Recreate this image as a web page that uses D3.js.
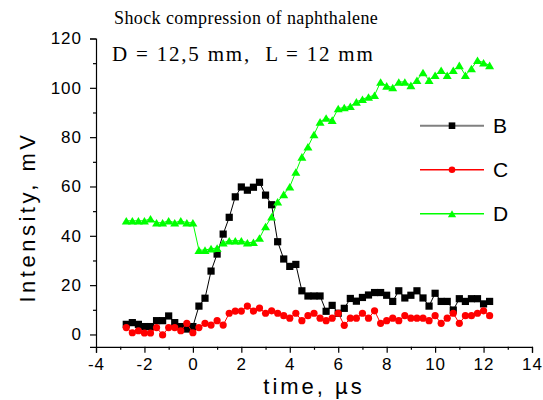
<!DOCTYPE html>
<html>
<head>
<meta charset="utf-8">
<script src="https://cdn.jsdelivr.net/npm/d3@7"></script>
<style>
  body { margin: 0; background: #fff; }
  svg { display: block; }
</style>
</head>
<body>
<div id="chart"></div>
<script>
// sample times, µs
const times = [-2.75, -2.5, -2.25, -2, -1.75, -1.5, -1.25, -1, -0.75, -0.5, -0.25, 0,
  0.25, 0.5, 0.75, 1, 1.25, 1.5, 1.75, 2, 2.25, 2.5, 2.75, 3, 3.25, 3.5, 3.75, 4,
  4.25, 4.5, 4.75, 5, 5.25, 5.5, 5.75, 6, 6.25, 6.5, 6.75, 7, 7.25, 7.5, 7.75, 8,
  8.25, 8.5, 8.75, 9, 9.25, 9.5, 9.75, 10, 10.25, 10.5, 10.75, 11, 11.25, 11.5, 11.75, 12, 12.25]

const seriesB = [4.1, 4.8, 4.1, 3.2, 3.2, 5.6, 5.6, 7.5, 4.8, 3.2, 2.2, 3.2,
  11.5, 14.7, 25.7, 32.6, 40.7, 47.5, 55.8, 59.8, 58.5, 59.7, 61.7, 56.5, 52.6, 37.6, 30.6, 27.6,
  28.4, 17.7, 15.6, 15.6, 15.6, 9.4, 11.8, 8.6, 10.6, 14.6, 13.5, 15.0, 16.0, 17.0, 17.0, 15.9,
  13.4, 17.7, 14.8, 15.9, 17.7, 14.8, 11.5, 16.7, 13.4, 13.4, 9.9, 14.5, 13.4, 14.5, 14.5, 12.4, 13.4]

const seriesC = [2.8, 0.7, 1.5, 0.6, 0.6, 2.8, -0.2, 2.8, 2.8, 1.5, 4.5, 0.7,
  2.8, 4.5, 3.8, 5.6, 3.8, 8.6, 9.5, 9.5, 11.5, 9.5, 10.7, 8.6, 9.6, 8.6, 7.6, 6.6,
  8.6, 5.6, 7.6, 8.6, 6.6, 5.6, 6.6, 8.6, 3.7, 6.6, 6.6, 8.6, 6.6, 9.6, 4.5, 5.6,
  6.6, 5.6, 7.6, 6.6, 6.6, 6.6, 5.6, 7.6, 4.5, 6.6, 8.6, 4.5, 7.6, 7.6, 8.6, 9.6, 7.6]

const seriesD = [46.1, 46.1, 46.1, 46.1, 46.9, 45.3, 45.3, 46.1, 45.3, 46.1, 45.3, 45.3,
  34.2, 34.2, 34.8, 35.0, 37.2, 38.0, 38.0, 38.0, 37.2, 37.4, 39.1, 43.8, 47.7, 53.8, 56.8, 59.9,
  65.9, 72.0, 76.1, 81.1, 86.2, 87.8, 86.9, 91.6, 92.0, 92.5, 94.3, 95.4, 96.3, 97.0, 102.4, 100.8,
  100.1, 102.4, 102.4, 101.0, 103.1, 106.2, 103.1, 105.1, 107.1, 105.1, 107.1, 109.1, 105.1, 107.8, 111.2, 110.2, 109.1]

const xTicks = [-4, -2, 0, 2, 4, 6, 8, 10, 12, 14]
const yTicks = [0, 20, 40, 60, 80, 100, 120]
const legendNames = ['B', 'C', 'D']

const width = 543, height = 400

const svg = d3.select('#chart').append('svg')
  .attr('width', width)
  .attr('height', height)

const x = d3.scaleLinear().domain([-4, 14]).range([96, 532])
const y = d3.scaleLinear().domain([-5, 120]).range([346.8, 38.5])

// plain hyphen minus like the original
const fmt = d => String(d)

// axes
svg.append('g')
  .attr('transform', `translate(0,${y(-5)})`)
  .call(d3.axisBottom(x).tickValues(xTicks).tickSize(6).tickPadding(5).tickFormat(fmt))
svg.append('g')
  .attr('transform', `translate(0,${y(-5)})`)
  .call(d3.axisBottom(x).tickValues(d3.range(-3, 14, 2)).tickSize(3).tickFormat(''))
  .select('.domain').remove()

svg.append('g')
  .attr('transform', `translate(${x(-4)},0)`)
  .call(d3.axisLeft(y).tickValues(yTicks).tickSize(6).tickPadding(8).tickFormat(fmt))
svg.append('g')
  .attr('transform', `translate(${x(-4)},0)`)
  .call(d3.axisLeft(y).tickValues(d3.range(10, 120, 20)).tickSize(3).tickFormat(''))
  .select('.domain').remove()

svg.selectAll('.domain').attr('stroke', '#000').attr('stroke-width', 1.2)
svg.selectAll('.tick line').attr('stroke', '#000').attr('stroke-width', 1.2)
svg.selectAll('.tick text')
  .attr('fill', '#000')
  .style('font-family', 'Liberation Sans, Arial, sans-serif')
  .style('font-size', '17px')
  .style('letter-spacing', '1px')

// axis titles
svg.append('text')
  .attr('transform', 'translate(35,217) rotate(-90)')
  .attr('text-anchor', 'middle')
  .style('font-family', 'Liberation Sans, Arial, sans-serif')
  .style('font-size', '22px')
  .style('letter-spacing', '3.5px')
  .text('Intensity, mV')

svg.append('text')
  .attr('x', 314)
  .attr('y', 394)
  .attr('text-anchor', 'middle')
  .style('font-family', 'Liberation Sans, Arial, sans-serif')
  .style('font-size', '22px')
  .style('letter-spacing', '3px')
  .text('time, µs')

// header text
svg.append('text')
  .attr('x', 114).attr('y', 24)
  .style('font-family', 'Liberation Serif, Times New Roman, serif')
  .style('font-size', '18px')
  .style('letter-spacing', '0.4px')
  .text('Shock compression of naphthalene')
svg.append('text')
  .attr('x', 112).attr('y', 61)
  .style('font-family', 'Liberation Serif, Times New Roman, serif')
  .style('font-size', '21px')
  .style('letter-spacing', '1.8px')
  .style('white-space', 'pre')
  .text('D = 12,5 mm,  L = 12 mm')

// markers
const triPath = (w, h) => `M0,${-h / 2}L${w / 2},${h / 2}L${-w / 2},${h / 2}Z`

const series = [
  { name: 'B', values: seriesB, color: '#000', legendLine: '#808080', shape: 'square' },
  { name: 'C', values: seriesC, color: '#ff0000', legendLine: '#ff0000', shape: 'circle' },
  { name: 'D', values: seriesD, color: '#00ff00', legendLine: '#00ff00', shape: 'triangle' }
]

const line = d3.line().x(d => x(d[0])).y(d => y(d[1]))

const drawMarker = (g, shape, color, s) => {
  if (shape === 'square') {
    g.append('rect').attr('x', -s / 2).attr('y', -s / 2).attr('width', s).attr('height', s).attr('fill', color)
  } else if (shape === 'circle') {
    g.append('circle').attr('r', s / 2).attr('fill', color)
  } else {
    g.append('path').attr('d', triPath(s * 1.25, s * 1.05)).attr('fill', color)
  }
}

series.forEach(s => {
  const pts = times.map((t, i) => [t, s.values[i]])
  const grp = svg.append('g')
  grp.append('path')
    .datum(pts)
    .attr('d', line)
    .attr('fill', 'none')
    .attr('stroke', s.color)
    .attr('stroke-width', 1)
  grp.selectAll('g.pt')
    .data(pts)
    .enter()
    .append('g')
    .attr('class', 'pt')
    .attr('transform', d => `translate(${x(d[0])},${y(d[1])})`)
    .each(function () { drawMarker(d3.select(this), s.shape, s.color, 7.2) })
})

// legend
const legend = svg.append('g')
series.forEach((s, i) => {
  const ly = 125.7 + i * 44
  legend.append('line')
    .attr('x1', 420).attr('x2', 484)
    .attr('y1', ly).attr('y2', ly)
    .attr('stroke', s.legendLine)
    .attr('stroke-width', s.name === 'B' ? 2 : 1.5)
  const m = legend.append('g').attr('transform', `translate(452,${ly})`)
  drawMarker(m, s.shape, s.color, 6.6)
  legend.append('text')
    .attr('x', 493).attr('y', ly + 7.5)
    .style('font-family', 'Liberation Sans, Arial, sans-serif')
    .style('font-size', '21px')
    .text(legendNames[i])
})
</script>
</body>
</html>
